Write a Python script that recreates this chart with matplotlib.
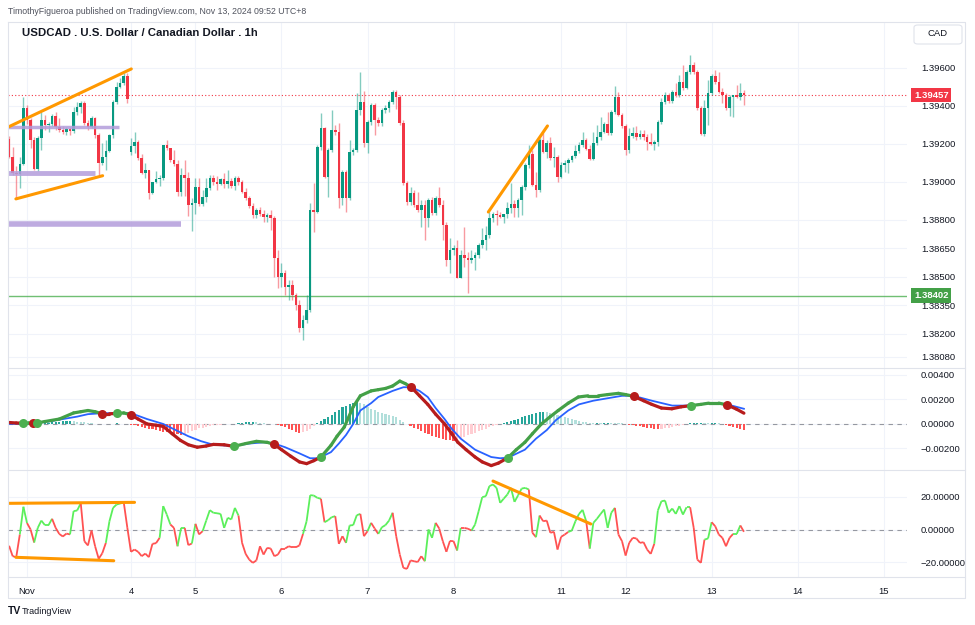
import numpy as np
import matplotlib.pyplot as plt
from matplotlib.collections import LineCollection
from matplotlib.lines import Line2D
from matplotlib.patches import FancyBboxPatch
from matplotlib.transforms import blended_transform_factory

plt.rcParams['font.family'] = ['Liberation Sans', 'DejaVu Sans']

# ---------------- data (USDCAD 1h) ----------------
first_open = 1.39226
week_open = {34: 1.39158}          # Monday open after the weekend gap

closes = [
    1.39132, 1.39047, 1.39042, 1.39095, 1.39389, 1.39326, 1.39221, 1.39068, 1.39232, 1.39326,
    1.39300, 1.39305, 1.39347, 1.39289, 1.39274, 1.39263, 1.39279, 1.39268, 1.39368, 1.39395,
    1.39416, 1.39311, 1.39289, 1.39337, 1.39247, 1.39100, 1.39132, 1.39163, 1.39247, 1.39421,
    1.39500, 1.39521, 1.39558, 1.39437, 1.39189, 1.39211, 1.39126, 1.39047, 1.39063, 1.38942,
    1.39000, 1.39016, 1.39021, 1.39195, 1.39179, 1.39116, 1.39095, 1.38947, 1.39037, 1.39021,
    1.38879, 1.38889, 1.38974, 1.38884, 1.38921, 1.38968, 1.39021, 1.39000, 1.38989, 1.39016,
    1.38989, 1.39005, 1.38979, 1.39021, 1.39000, 1.38947, 1.38916, 1.38874, 1.38826, 1.38853,
    1.38832, 1.38816, 1.38826, 1.38811, 1.38600, 1.38500, 1.38521, 1.38447, 1.38458, 1.38405,
    1.38353, 1.38232, 1.38274, 1.38326, 1.38853, 1.38842, 1.39184, 1.39284, 1.39026, 1.39168,
    1.39274, 1.39263, 1.38916, 1.39053, 1.38916, 1.39158, 1.39168, 1.39379, 1.39421, 1.39205,
    1.39316, 1.39405, 1.39326, 1.39311, 1.39379, 1.39389, 1.39421, 1.39474, 1.39447, 1.39311,
    1.38995, 1.38895, 1.38942, 1.38879, 1.38853, 1.38879, 1.38811, 1.38905, 1.38837, 1.38916,
    1.38879, 1.38774, 1.38589, 1.38642, 1.38653, 1.38495, 1.38616, 1.38600, 1.38589, 1.38600,
    1.38616, 1.38668, 1.38695, 1.38721, 1.38811, 1.38832, 1.38826, 1.38816, 1.38832, 1.38863,
    1.38884, 1.38863, 1.38905, 1.38974, 1.39089, 1.39147, 1.38984, 1.38958, 1.39221, 1.39158,
    1.39205, 1.39126, 1.39132, 1.39026, 1.39089, 1.39100, 1.39116, 1.39137, 1.39163, 1.39195,
    1.39221, 1.39174, 1.39121, 1.39205, 1.39237, 1.39263, 1.39305, 1.39258, 1.39368, 1.39447,
    1.39353, 1.39295, 1.39168, 1.39242, 1.39258, 1.39237, 1.39253, 1.39237, 1.39211, 1.39200,
    1.39211, 1.39316, 1.39421, 1.39458, 1.39426, 1.39474, 1.39458, 1.39526, 1.39495, 1.39579,
    1.39616, 1.39579, 1.39389, 1.39253, 1.39389, 1.39468, 1.39558, 1.39526, 1.39474, 1.39458,
    1.39389, 1.39447, 1.39458, 1.39447, 1.39468, 1.39457,
]
highs = [
    1.39242, 1.39184, 1.39084, 1.39132, 1.39447, 1.39405, 1.39337, 1.39237, 1.39242, 1.39368,
    1.39353, 1.39316, 1.39358, 1.39368, 1.39337, 1.39295, 1.39289, 1.39289, 1.39395, 1.39421,
    1.39426, 1.39426, 1.39326, 1.39347, 1.39342, 1.39258, 1.39205, 1.39221, 1.39253, 1.39432,
    1.39526, 1.39547, 1.39574, 1.39574, 1.39232, 1.39263, 1.39221, 1.39147, 1.39100, 1.39063,
    1.39000, 1.39058, 1.39037, 1.39195, 1.39221, 1.39179, 1.39168, 1.39116, 1.39074, 1.39116,
    1.39053, 1.38916, 1.39021, 1.39021, 1.38958, 1.39021, 1.39037, 1.39037, 1.39032, 1.39021,
    1.39047, 1.39063, 1.39021, 1.39032, 1.39032, 1.39011, 1.38968, 1.38926, 1.38889, 1.38863,
    1.38868, 1.38853, 1.38837, 1.38853, 1.38821, 1.38642, 1.38574, 1.38537, 1.38484, 1.38484,
    1.38416, 1.38379, 1.38300, 1.38405, 1.38889, 1.38995, 1.39195, 1.39363, 1.39289, 1.39179,
    1.39379, 1.39300, 1.39311, 1.39063, 1.39063, 1.39221, 1.39179, 1.39468, 1.39579, 1.39479,
    1.39326, 1.39416, 1.39416, 1.39342, 1.39389, 1.39405, 1.39432, 1.39484, 1.39484, 1.39458,
    1.39326, 1.39005, 1.38974, 1.38958, 1.38947, 1.38905, 1.38905, 1.38916, 1.38921, 1.38926,
    1.38974, 1.38905, 1.38789, 1.38705, 1.38668, 1.38695, 1.38642, 1.38763, 1.38632, 1.38642,
    1.38632, 1.38679, 1.38758, 1.38768, 1.38842, 1.38842, 1.38853, 1.38842, 1.38832, 1.38895,
    1.38995, 1.38905, 1.38916, 1.38984, 1.39100, 1.39195, 1.39168, 1.39053, 1.39232, 1.39258,
    1.39221, 1.39237, 1.39184, 1.39142, 1.39105, 1.39116, 1.39126, 1.39142, 1.39195, 1.39211,
    1.39263, 1.39232, 1.39195, 1.39263, 1.39300, 1.39342, 1.39316, 1.39368, 1.39379, 1.39505,
    1.39474, 1.39363, 1.39305, 1.39284, 1.39289, 1.39295, 1.39274, 1.39274, 1.39253, 1.39258,
    1.39221, 1.39326, 1.39442, 1.39474, 1.39468, 1.39484, 1.39521, 1.39563, 1.39616, 1.39589,
    1.39668, 1.39632, 1.39589, 1.39400, 1.39432, 1.39537, 1.39568, 1.39589, 1.39579, 1.39495,
    1.39468, 1.39458, 1.39458, 1.39511, 1.39521, 1.39484,
]
lows = [
    1.39126, 1.39037, 1.38911, 1.38968, 1.39089, 1.39305, 1.39179, 1.39063, 1.39058, 1.39168,
    1.39274, 1.39263, 1.39295, 1.39274, 1.39263, 1.39253, 1.39247, 1.39247, 1.39258, 1.39353,
    1.39363, 1.39300, 1.39274, 1.39284, 1.39232, 1.39037, 1.39089, 1.39063, 1.39158, 1.39232,
    1.39411, 1.39495, 1.39511, 1.39416, 1.39142, 1.39153, 1.39116, 1.39042, 1.39021, 1.38911,
    1.38937, 1.38995, 1.38979, 1.39011, 1.39168, 1.39105, 1.39084, 1.38926, 1.38926, 1.38926,
    1.38821, 1.38742, 1.38832, 1.38874, 1.38874, 1.38895, 1.38958, 1.38984, 1.38958, 1.38984,
    1.38968, 1.38968, 1.38968, 1.38958, 1.38984, 1.38942, 1.38905, 1.38863, 1.38811, 1.38811,
    1.38821, 1.38789, 1.38789, 1.38747, 1.38500, 1.38442, 1.38447, 1.38405, 1.38379, 1.38379,
    1.38326, 1.38211, 1.38168, 1.38258, 1.38316, 1.38737, 1.38837, 1.39168, 1.39021, 1.38921,
    1.39158, 1.39247, 1.38863, 1.38879, 1.38842, 1.38905, 1.39142, 1.39158, 1.39353, 1.39184,
    1.39153, 1.39300, 1.39247, 1.39295, 1.39295, 1.39363, 1.39368, 1.39411, 1.39384, 1.39300,
    1.38984, 1.38879, 1.38879, 1.38868, 1.38842, 1.38763, 1.38695, 1.38763, 1.38826, 1.38826,
    1.38868, 1.38695, 1.38558, 1.38521, 1.38616, 1.38495, 1.38495, 1.38553, 1.38416, 1.38574,
    1.38537, 1.38600, 1.38653, 1.38642, 1.38705, 1.38789, 1.38774, 1.38811, 1.38784, 1.38811,
    1.38837, 1.38816, 1.38816, 1.38826, 1.38958, 1.39074, 1.38979, 1.38921, 1.38947, 1.39153,
    1.39126, 1.39116, 1.39079, 1.39000, 1.39021, 1.39053, 1.39047, 1.39105, 1.39126, 1.39153,
    1.39184, 1.39168, 1.39116, 1.39116, 1.39195, 1.39221, 1.39258, 1.39247, 1.39247, 1.39358,
    1.39347, 1.39284, 1.39142, 1.39153, 1.39232, 1.39221, 1.39226, 1.39221, 1.39168, 1.39195,
    1.39168, 1.39189, 1.39305, 1.39411, 1.39416, 1.39416, 1.39447, 1.39447, 1.39484, 1.39489,
    1.39568, 1.39568, 1.39379, 1.39247, 1.39242, 1.39300, 1.39458, 1.39516, 1.39468, 1.39416,
    1.39379, 1.39347, 1.39342, 1.39442, 1.39432, 1.39405,
]

price_ticks = [1.39600, 1.39400, 1.39200, 1.39000, 1.38800, 1.38650,
               1.38500, 1.38350, 1.38200, 1.38080]
last_price = 1.39457
support = 1.38402

# MACD histogram, in 1e-5
hist = [
    -3, -2, -2, -1, 1, 1, 0, 1, 3,
    6, 8, 10, 14, 16, 18, 22, 24, 26, 24, 20, 16, 12,
    8, 5, 2, -1, -3, -2, 1, 3, 4, 3, 2, 0,
    -6, -12, -20, -26, -32, -38, -42, -48, -55, -62, -68,
    -74, -80, -85, -88, -82, -70, -58, -46, -36,
    -30, -24, -18, -12, -8, -5, -3, -2, -1,
    2, 5, 8, 12, 14, 15, 13, 10, 6, 3, 1, -2, -5,
    -15, -28, -40, -52, -62, -70, -66, -55, -38, -20,
    5, 25, 40, 55, 75, 95, 115, 135, 150, 162, 172, 180, 175,
    160, 140, 125, 110, 100, 90, 80, 72, 65, 55, 35, 12, 2,
    -15, -30, -45, -60, -72, -84, -95, -105, -115, -122, -128, -134, -140,
    -130, -118, -106, -94, -82, -70, -58, -48, -38, -28, -18, -10, -4,
    6, 14, 24, 34, 44, 54, 64, 72, 80, 88, 95, 100,
    96, 88, 80, 72, 64, 56, 48, 40, 32, 25, 18, 12, 8,
    6, 8, 6, 8, 10, 8, 6, 5, 4, 3,
    -5, -10, -15, -20, -26, -30, -35, -38, -40, -38, -35, -32, -28,
    -20, -14, -8, 2, 4, 6, 8, 10, 8, 6, 8, 10, 6, 3,
    -10, -18, -26, -34, -42, -48,
]

# MACD line (bar index, value 1e-5) and colour of the piece that follows
macd_x = [0, 2, 4, 5.5, 6.8, 7.8, 10, 14, 18, 20,
          22, 24, 26, 28, 30, 32, 34, 36, 38.5, 41,
          43, 45.5, 47.8, 50, 52.5, 55, 57, 60, 62.7, 66,
          69, 72, 74, 76, 78.6, 81, 83, 85, 87, 89.8,
          91.5, 93.5, 96, 98, 101, 103, 105, 107, 109, 110.5,
          112.2, 114.5, 116.8, 119, 121.5, 123.5, 125.2, 127.5, 130, 132,
          134.5, 136.5, 139.2, 141.5, 143.9, 146, 148.5, 151, 153.2, 156,
          158.8, 161.5, 164.4, 167, 170, 172, 174.2, 177, 179.3, 182,
          184.9, 187.5, 190.3, 193, 195.2, 198, 200.3, 203, 205]
macd_v = [12, 8, 6, 8, 6, 8, 20, 40, 90, 100,
          110, 100, 83, 83, 86, 90, 75, 40, 0, -10,
          -20, -80, -134, -170, -190, -180, -167, -170, -183, -160,
          -142, -150, -167, -210, -264, -310, -324, -300, -270, -175,
          -100, -26, 140, 230, 270, 280, 290, 310, 350, 330,
          300, 230, 160, 80, 0, -80, -150, -210, -270, -310,
          -340, -320, -275, -210, -150, -80, 0, 60, 110, 170,
          220, 230, 230, 240, 250, 240, 226, 190, 160, 130,
          124, 140, 150, 160, 170, 170, 156, 120, 88]
macd_c = ("rrggrggggg" "ggrrggrrrr" "rrrrrrrrgg" "ggrrrrrrgg" "gggggggggg"
          "rrrrrrrrrr" "rrgggggggg" "ggggggrrrr" "rrggggrrr")
cross_x = [4, 6.8, 7.8, 26, 30, 34, 62.7, 74, 87, 112.2, 139.2, 174.2, 190.3, 200.3]
cross_c = "grgrgrgrgrgrgr"

sig_x = [0, 4, 7, 11, 15, 19, 22, 26, 30, 34,
         38.5, 43, 46.5, 50, 53.5, 57, 62.7, 67, 71, 74,
         77, 81, 84, 86, 87, 89.8, 92, 94, 96, 98,
         101, 103, 107, 110, 112.2, 114.5, 116.8, 119, 121.5, 123.5,
         126, 130, 134.5, 137, 139.2, 143.9, 147, 150, 152.5, 156,
         159, 163, 167, 171, 174.2, 179.3, 185, 190.3, 195, 200.3, 205]
sig_v = [0, 2, 5, 20, 40, 60, 80, 88, 88, 88,
         40, 0, -50, -100, -140, -170, -180, -160, -150, -160,
         -190, -240, -280, -280, -270, -230, -160, -90, 0, 110,
         170, 220, 270, 300, 300, 270, 220, 130, 40, -40,
         -120, -210, -270, -280, -275, -210, -120, -50, 30, 110,
         160, 190, 210, 230, 230, 190, 150, 150, 170, 160, 124]

# lower oscillator, one value per bar, colour of the piece ending at the bar
osc = [
    -10, -16.4, -17, -3, 14, 4, 0, -8, 1, 5.5,
    2.7, 2.7, 6.6, 1, -2.7, -4.3, -2.5, -3, 11.3, 11.7,
    16.2, -7.2, -9.8, -0.6, -10.3, -18, -14.6, -8.2, 5.1, 13.3,
    15.4, 16, 16.6, 1, -13.7, -12.3, -13.7, -16.4, -14.8, -17,
    -8.8, -8.4, -5.1, 14.4, 9.2, 3.1, 1, -10.3, 1, 1,
    -9.6, -8.6, 3.5, -3, -1, 5.5, 11.9, 10.3, 10, 9.6,
    1, 7.2, 6.2, 13.3, 8.6, -8.2, -15, -18.5, -20.5, -19,
    -10.3, -15.4, -11.3, -11.7, -16.4, -15.4, -11.7, -11.7, -10.3, -10.9,
    -10.9, -9.8, -2.7, 5.1, 21.1, 20.9, 19.5, 18.9, 4.5, 5.7,
    7.6, 8.2, -8.8, -4.1, -8.2, 2.5, 2.7, 8.8, 9.6, -4.1,
    -1, 4.1, 0.6, -2.7, 1.4, 2.7, 5.5, 10.3, -4.1, -15.4,
    -23.6, -24.2, -19, -19.5, -20, -16.4, -19.5, 0, -5.1, 4.1,
    0.6, -7.2, -13.7, -7, -7.2, -12.9, 1, 1, 0.5, -0.6,
    3.1, 11.3, 19.9, 20.5, 26.7, 27.7, 25.6, 16.4, 19, 21.5,
    25.6, 17, 21, 25.2, 25.6, 24.6, -2, -4.7, 8.6, 5.1,
    5.5, -2, -1.4, -12.3, -4.5, -3.1, -1.5, -0.6, 5.1, 9.6,
    12.1, 5.1, -11.7, 4.1, 6.6, 9.5, 12.3, 1, 10.3, 13.3,
    -3.1, -7.2, -16, -8.2, -5.1, -5.5, -8.2, -7.8, -12.3, -15,
    -8.8, 11.7, 17.4, 17.8, 10.3, 12.9, 9.6, 14.4, 9.2, 13.7,
    13.7, 1, -18.5, -20.5, -6.2, -5.5, 4.5, 2, -3.1, -5.1,
    -10.3, -5.1, -2.7, -2.7, 2.5, -1.4,
]
osc_c = ("rrrrggrrgg" "gggrrrrrgg" "grrrrrrrgg" "gggrrrrrrr" "rrrgggrrgg"
         "rrgrrggggg" "gggggrrrrr" "rrrrrrrrrr" "rrrgggggrg" "ggrrrggggr"
         "rgrrggggrr" "rrrrrrrggg" "rrrrrrgrrr" "gggggggggg" "ggggggrrgr"
         "rrrrrrrggg" "ggrggggggg" "rrrrrrrrrr" "rggggggggg" "grrrrggrrr"
         "rrrggr")

day_pos = [5, 34, 52, 76, 100, 124, 154, 172, 196, 220, 244]
day_lbl = ['Nov', '4', '5', '6', '7', '8', '11', '12', '13', '14', '15']

# hand drawings on the chart: (bar, value) end points
price_lines = [((-0.6, 1.39286), (34.1, 1.39595)),
               ((1.9, 1.38911), (26.1, 1.39033)),
               ((133.7, 1.38842), (150.2, 1.39295))]
zones = [(-0.3, 30.8, 1.39287, 2.5), (-0.3, 24.1, 1.39049, 3.5), (-0.3, 48.1, 1.38778, 4.0)]
osc_lines = [((-0.6, 16.1), (35, 16.7)),
             ((1.9, -17.1), (29.2, -19.2)),
             ((135, 29.8), (162.3, 3.4))]

# ---------------- drawing ----------------
UP, DN = '#089981', '#f23645'
GRID = '#f0f3fa'
TXT = '#131722'
W, H = 975, 625
XR = 907


def rect(x0, y0, x1, y1):
    return [x0 / W, 1 - y1 / H, (x1 - x0) / W, (y1 - y0) / H]


fig = plt.figure(figsize=(W / 100, H / 100), dpi=100)
ax = fig.add_axes(rect(8, 22, XR, 368))
ax2 = fig.add_axes(rect(8, 368, XR, 470), sharex=ax)
ax3 = fig.add_axes(rect(8, 470, XR, 577), sharex=ax)

closes = np.array(closes)
highs = np.array(highs)
lows = np.array(lows)
n = len(closes)
x = np.arange(n)
opens = np.r_[first_open, closes[:-1]]
for k, v in week_open.items():
    opens[k] = v
col = np.where(closes >= opens, UP, DN)

ax.vlines(x, lows, highs, colors=col, lw=1.0, alpha=0.5, zorder=3)
body = np.maximum(np.abs(closes - opens), 0.00004)
ax.bar(x, body, bottom=np.minimum(opens, closes), width=0.72, color=col, lw=0, zorder=4)

for (x0, y0), (x1, y1) in price_lines:
    ax.plot([x0, x1], [y0, y1], color='#ff9800', lw=2.2, solid_capstyle='round', zorder=6)
for x0, x1, y, lw in zones:
    ax.plot([x0, x1], [y, y], color='#b39ddb', lw=lw, alpha=0.85, solid_capstyle='butt', zorder=5)

ax.axhline(support, color='#4caf50', lw=1.0, alpha=0.8, zorder=2)
ax.axhline(last_price, color=DN, lw=0.8, ls=(0, (1, 2)), zorder=2)

ax.set_ylim(1.38021, 1.39842)
ax.set_yticks(price_ticks)
ax.set_yticklabels([f'{p:.5f}' for p in price_ticks])

bt = blended_transform_factory(ax.transAxes, ax.transData)
for val, c in [(last_price, DN), (support, '#43a047')]:
    ax.text(1.0078, val, f'{val:.5f}', transform=bt, color='white', fontsize=6.8,
            fontweight='bold', va='center', ha='left', zorder=10, clip_on=False,
            bbox=dict(boxstyle='square,pad=0.3', fc=c, ec='none'))

# MACD pane
h = np.array(hist) * 1e-5
prev = np.r_[h[0], h[:-1]]
hcol = np.where(h >= 0, np.where(h >= prev, '#26a69a', '#b2dfdb'),
                np.where(h < prev, '#ff5252', '#ffcdd2'))
ax2.bar(x, h, width=0.6, color=hcol, lw=0, zorder=2)
ax2.axhline(0, color='#9598a1', lw=0.8, ls=(0, (4, 4)), zorder=1)

mx = np.array(macd_x)
mv = np.array(macd_v) * 1e-5
segs = [[(mx[k], mv[k]), (mx[k + 1], mv[k + 1])] for k in range(len(mx) - 1)]
scol = ['#43a047' if c == 'g' else '#b71c1c' for c in macd_c[:len(segs)]]
ax2.plot(np.array(sig_x), np.array(sig_v) * 1e-5, color='#2962ff', lw=1.3, zorder=3)
ax2.add_collection(LineCollection(segs, colors=scol, linewidths=2.3, capstyle='round',
                                  joinstyle='round', zorder=4))
for cx, cc in zip(cross_x, cross_c):
    cy = mv[macd_x.index(cx)]
    ax2.plot(cx, cy, 'o', ms=6.5, mew=0, color='#4caf50' if cc == 'g' else '#b71c1c', zorder=5)

ax2.set_ylim(-0.00376, 0.00457)
mt = [0.004, 0.002, 0.0, -0.002]
ax2.set_yticks(mt)
ax2.set_yticklabels(['0.00400', '0.00200', '0.00000', '\u22120.00200'])

# oscillator pane
ov = np.array(osc, dtype=float)
osegs = [[(k - 1, ov[k - 1]), (k, ov[k])] for k in range(1, n)]
ocol = ['#5bef5b' if c == 'g' else '#ff5252' for c in osc_c[1:n]]
ax3.add_collection(LineCollection(osegs, colors=ocol, linewidths=1.3, zorder=3))
ax3.axhline(0, color='#9598a1', lw=0.8, ls=(0, (4, 4)), zorder=1)
for (x0, y0), (x1, y1) in osc_lines:
    ax3.plot([x0, x1], [y0, y1], color='#ff9800', lw=2.2, solid_capstyle='round', zorder=6)
ax3.set_ylim(-29.2, 36.6)
ax3.set_yticks([20, 0, -20])
ax3.set_yticklabels(['20.00000', '0.00000', '\u221220.00000'])

# common styling
for a in (ax, ax2, ax3):
    a.set_xlim(-0.3, 250.5)
    a.yaxis.tick_right()
    a.tick_params(axis='y', length=0, pad=10, labelsize=6.8, labelcolor=TXT)
    a.tick_params(axis='x', length=0)
    for s in a.spines.values():
        s.set_visible(False)
    for d in day_pos:
        a.axvline(d, color=GRID, lw=0.8, zorder=0)
    for t in a.get_yticks():
        a.axhline(t, color=GRID, lw=0.8, zorder=0)
    a.set_facecolor('white')

ax.tick_params(axis='x', labelbottom=False)
ax2.tick_params(axis='x', labelbottom=False)
ax3.set_xticks(day_pos)
ax3.set_xticklabels(day_lbl)
ax3.tick_params(axis='x', labelsize=6.8, labelcolor=TXT, pad=7)

# frame and pane separators
fl = dict(color='#e0e3eb', lw=0.8, transform=fig.transFigure)
for y in (368, 470, 577):
    fig.add_artist(Line2D([8 / W, 965 / W], [1 - y / H] * 2, **fl))
fig.add_artist(Line2D([8 / W, 965 / W, 965 / W, 8 / W, 8 / W],
                      [1 - 22 / H, 1 - 22 / H, 1 - 598 / H, 1 - 598 / H, 1 - 22 / H], **fl))

fig.add_artist(FancyBboxPatch((914 / W, 1 - 44 / H), 48 / W, 19 / H,
                              boxstyle='round,pad=0,rounding_size=0.004',
                              transform=fig.transFigure, fc='white', ec='#e0e3eb', lw=0.8))
fig.text(938 / W, 1 - 34 / H, 'CAD', ha='center', va='center', fontsize=6.8, color=TXT)

fig.text(8 / W, 1 - 11 / H,
         'TimothyFigueroa published on TradingView.com, Nov 13, 2024 09:52 UTC+8',
         fontsize=6.3, color='#50535e', va='center')
fig.text(22 / W, 1 - 33 / H, 'USDCAD . U.S. Dollar / Canadian Dollar . 1h',
         fontsize=8.2, fontweight='bold', color=TXT, va='center')
fig.text(8 / W, 1 - 611 / H, 'TV', fontsize=7.5, fontweight='heavy', color=TXT, va='center')
fig.text(22 / W, 1 - 611 / H, 'TradingView', fontsize=6.5, color=TXT, va='center')

fig.savefig('out.png', dpi=100, facecolor='white')
